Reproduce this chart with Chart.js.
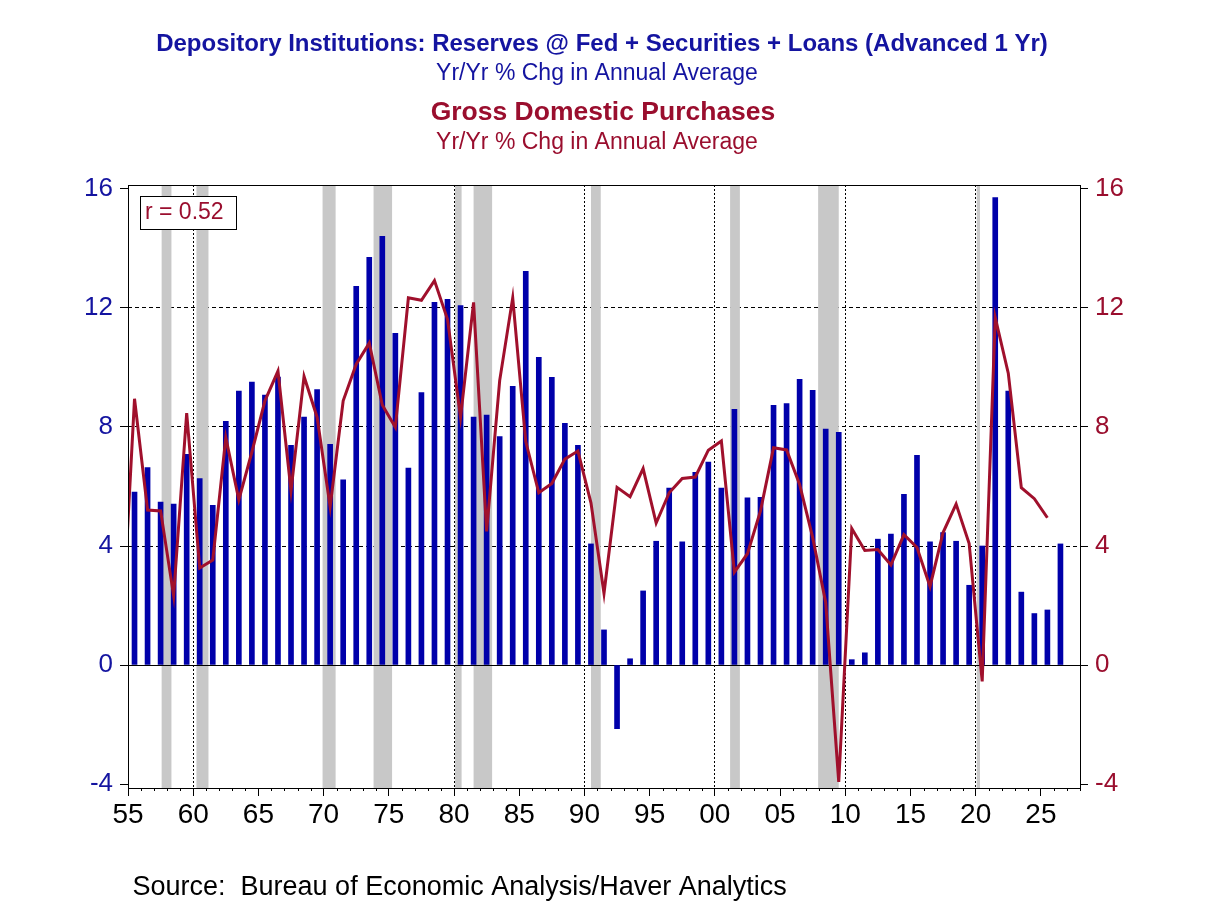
<!DOCTYPE html>
<html>
<head>
<meta charset="utf-8">
<script src="https://cdn.jsdelivr.net/npm/chart.js@4.4.1/dist/chart.umd.min.js"></script>
<style>
  html, body { margin: 0; padding: 0; background: #fff; }
  #wrap { width: 1208px; height: 906px; }
</style>
</head>
<body>
<div id="wrap"><canvas id="myChart" width="1208" height="906"></canvas></div>
<script>
// bars: depository institutions, yr/yr % chg, advanced 1 yr (1955..2026)
const barYears = [];
for (let y = 1955; y <= 2026; y++) barYears.push(y);
const barValues = [
  5.81, 6.64, 5.48, 5.41, 7.08, 6.27, 5.37, 8.19, 9.21, 9.51,
  9.07, 9.68, 7.38, 8.33, 9.26, 7.42, 6.22, 12.73, 13.70, 14.41,
  11.15, 6.62, 9.16, 12.19, 12.29, 12.08, 8.33, 8.40, 7.68, 9.37,
  13.23, 10.34, 9.67, 8.12, 7.38, 4.07, 1.18, -2.14, 0.21, 2.49,
  4.16, 5.95, 4.14, 6.48, 6.82, 5.95, 8.59, 5.62, 5.64, 8.73,
  8.79, 9.60, 9.23, 7.93, 7.82, 0.18, 0.41, 4.23, 4.40, 5.74,
  7.05, 4.14, 4.45, 4.16, 2.68, 4.00, 15.71, 9.21, 2.45, 1.73,
  1.85, 4.07
];

// line: gross domestic purchases, yr/yr % chg (1954..2025)
const lineYears = [];
for (let y = 1954; y <= 2025; y++) lineYears.push(y);
const lineValues = [
  0.73, 8.95, 5.21, 5.18, 2.33, 8.47, 3.26, 3.53, 7.64, 5.55,
  7.16, 8.88, 9.88, 5.86, 9.70, 8.33, 5.32, 8.88, 10.11, 10.82,
  8.74, 7.99, 12.34, 12.26, 12.92, 11.62, 8.33, 12.19, 4.49, 9.56,
  12.34, 7.51, 5.79, 6.10, 6.92, 7.19, 5.45, 2.41, 5.97, 5.66,
  6.60, 4.77, 5.79, 6.27, 6.32, 7.22, 7.53, 3.12, 3.74, 5.18,
  7.30, 7.23, 6.07, 4.29, 2.10, -3.93, 4.59, 3.85, 3.88, 3.36,
  4.38, 3.95, 2.64, 4.45, 5.41, 4.08, -0.55, 11.68, 9.81, 5.96,
  5.59, 4.95
];

// recessions (decimal years)
const recStart = [1957.58, 1960.25, 1969.92, 1973.83, 1980.08, 1981.5, 1990.5, 2001.17, 2007.92, 2020.08];
const recEnd   = [1958.33, 1961.17, 1970.92, 1975.25, 1980.58, 1982.92, 1991.25, 2001.92, 2009.5, 2020.33];

const yTicks = [-4, 0, 4, 8, 12, 16];
const rText = "r = 0.52";

const titleLines = [
  "Depository Institutions: Reserves @ Fed + Securities + Loans (Advanced 1 Yr)",
  "Yr/Yr % Chg in Annual Average",
  "Gross Domestic Purchases",
  "Yr/Yr % Chg in Annual Average"
];
const sourceText = "Source:  Bureau of Economic Analysis/Haver Analytics";

const BLUE = "#0000aa";
const BLUE_TXT = "#1414a0";
const RED = "#a0102c";
const RED_TXT = "#9a0e2e";
const FONT = "'Liberation Sans', Arial, Helvetica, sans-serif";

const decor = {
  id: "decor",
  beforeDraw(c) {
    const ctx = c.ctx;
    ctx.save();
    ctx.fillStyle = "#fff";
    ctx.fillRect(0, 0, c.width, c.height);
    ctx.restore();
  },
  beforeDatasetsDraw(c) {
    const ctx = c.ctx, a = c.chartArea, x = c.scales.x;
    ctx.save();
    // recession shading, over the grid
    ctx.fillStyle = "#c8c8c8";
    recStart.forEach((s, i) => {
      const x0 = x.getPixelForValue(s);
      const x1 = x.getPixelForValue(recEnd[i]);
      ctx.fillRect(x0, a.top, x1 - x0, a.bottom - a.top);
    });
    // zero line
    const y0 = Math.round(c.scales.y.getPixelForValue(0)) + 0.5;
    ctx.strokeStyle = "#000";
    ctx.lineWidth = 1;
    ctx.beginPath();
    ctx.moveTo(a.left, y0);
    ctx.lineTo(a.right, y0);
    ctx.stroke();
    ctx.restore();
  },
  afterDatasetsDraw(c) {
    const ctx = c.ctx, a = c.chartArea, x = c.scales.x;
    ctx.save();
    ctx.strokeStyle = "#000";
    ctx.lineWidth = 1;
    ctx.strokeRect(Math.round(a.left) + 0.5, Math.round(a.top) + 0.5,
      Math.round(a.right - a.left), Math.round(a.bottom - a.top));
    // minor year ticks
    ctx.beginPath();
    x.ticks.forEach((t) => {
      if (t.value % 5 !== 0) {
        const px = Math.round(x.getPixelForValue(t.value)) + 0.5;
        ctx.moveTo(px, a.bottom);
        ctx.lineTo(px, a.bottom + 3);
      }
    });
    ctx.stroke();
    // correlation box
    ctx.fillStyle = "#fff";
    ctx.fillRect(140.5, 196.5, 96, 33);
    ctx.strokeRect(140.5, 196.5, 96, 33);
    ctx.fillStyle = RED_TXT;
    ctx.font = "23px " + FONT;
    ctx.textBaseline = "alphabetic";
    ctx.textAlign = "left";
    ctx.fillText(rText, 145, 218.5);
    ctx.restore();
  },
  afterDraw(c) {
    const ctx = c.ctx;
    ctx.save();
    ctx.textAlign = "center";
    ctx.textBaseline = "alphabetic";
    ctx.fillStyle = BLUE_TXT;
    ctx.font = "bold 24px " + FONT;
    ctx.fillText(titleLines[0], 602, 50.5);
    ctx.font = "23px " + FONT;
    ctx.fillText(titleLines[1], 597, 79.5);
    ctx.fillStyle = RED_TXT;
    ctx.font = "bold 26.5px " + FONT;
    ctx.fillText(titleLines[2], 603, 119.5);
    ctx.font = "23px " + FONT;
    ctx.fillText(titleLines[3], 597, 148.5);
    ctx.fillStyle = "#000";
    ctx.textAlign = "left";
    ctx.font = "27px " + FONT;
    ctx.fillText(sourceText, 132.5, 895);
    ctx.restore();
  }
};

const chart = document.getElementById("myChart");
new Chart(chart, {
  type: "bar",
  data: {
    datasets: [
      {
        type: "line",
        data: lineYears.map((yr, i) => ({ x: yr + 0.5, y: lineValues[i] })),
        yAxisID: "y1",
        borderColor: RED,
        borderWidth: 3,
        pointRadius: 0,
        tension: 0,
        fill: false,
        clip: 0,
        order: 0,
      },
      {
        type: "bar",
        data: barYears.map((yr, i) => ({ x: yr + 0.5, y: barValues[i] })),
        yAxisID: "y",
        backgroundColor: BLUE,
        borderWidth: 0,
        barThickness: 5,
        grouped: false,
        order: 1,
      },
    ],
  },
  options: {
    responsive: false,
    animation: false,
    devicePixelRatio: 1,
    layout: { padding: { top: 185, left: 0, right: 0, bottom: 0 } },
    scales: {
      x: {
        type: "linear",
        min: 1955,
        max: 2028,
        offset: false,
        ticks: {
          stepSize: 1,
          autoSkip: false,
          maxRotation: 0,
          padding: 2,
          color: "#000",
          font: { family: FONT, size: 28 },
          callback: (v) => (v % 5 === 0 ? String(v % 100).padStart(2, "0") : ""),
        },
        grid: {
          offset: false,
          color: (ctx) => (ctx.tick && ctx.tick.value % 10 === 0 ? "#000" : "rgba(0,0,0,0)"),
          tickColor: (ctx) => (ctx.tick && ctx.tick.value % 5 === 0 ? "#000" : "rgba(0,0,0,0)"),
          tickLength: 8,
          lineWidth: 1,
        },
        border: { display: false, dash: [2, 2] },
        afterFit: (s) => { s.height = 118; },
      },
      y: {
        position: "left",
        min: -4.134,
        max: 16.134,
        afterBuildTicks: (s) => { s.ticks = yTicks.map((v) => ({ value: v })); },
        ticks: {
          padding: 7,
          color: BLUE_TXT,
          font: { family: FONT, size: 26 },
        },
        grid: {
          color: (ctx) => (ctx.tick && [4, 8, 12].includes(ctx.tick.value) ? "#000" : "rgba(0,0,0,0)"),
          tickColor: "#000",
          tickLength: 8,
        },
        border: { display: false, dash: [4, 3] },
        afterFit: (s) => { s.width = 128; },
      },
      y1: {
        position: "right",
        min: -4.134,
        max: 16.134,
        afterBuildTicks: (s) => { s.ticks = yTicks.map((v) => ({ value: v })); },
        ticks: {
          padding: 7,
          color: RED_TXT,
          font: { family: FONT, size: 26 },
        },
        grid: {
          drawOnChartArea: false,
          tickColor: "#000",
          tickLength: 8,
        },
        border: { display: false },
        afterFit: (s) => { s.width = 128; },
      },
    },
    plugins: {
      legend: { display: false },
      title: { display: false },
      tooltip: { enabled: false },
    },
  },
  plugins: [decor],
});
</script>
</body>
</html>
